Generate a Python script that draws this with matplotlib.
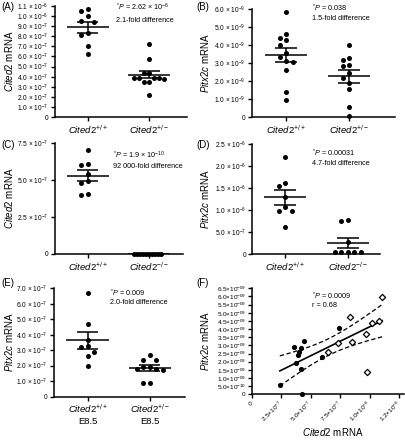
import matplotlib
matplotlib.use('Agg')
import matplotlib.pyplot as plt
import numpy as np

plt.rcParams['font.family'] = ['Liberation Sans', 'DejaVu Sans']
plt.rcParams['mathtext.fontset'] = 'custom'
plt.rcParams['mathtext.rm'] = 'Liberation Sans'
plt.rcParams['mathtext.it'] = 'Liberation Sans:italic'
plt.rcParams['mathtext.default'] = 'regular'

# ---- datos ----
a_wt = np.array([1.075, 1.05, 1.0, 0.95, 0.945, 0.83, 0.81, 0.7, 0.625]) * 1e-6
a_het = np.array([7.2, 5.75, 4.4, 4.35, 3.9, 3.85, 3.8, 3.9, 3.85, 3.45, 3.5, 2.2]) * 1e-7

b_wt = np.array([5.85, 4.3, 4.4, 4.65, 4.0, 3.55, 3.35, 3.1, 3.05, 2.6, 1.4, 0.95]) * 1e-9
b_het = np.array([4.0, 3.3, 3.18, 2.87, 2.82, 2.45, 2.2, 1.9, 1.55, 0.58, 0.04]) * 1e-9

c_wt = np.array([7.03, 6.13, 6.06, 5.45, 4.95, 4.84, 4.03, 4.05]) * 1e-7
c_ko = np.array([5.8] * 10) * 1e-12

d_wt = np.array([2.2, 1.61, 1.55, 1.31, 0.99, 0.99, 1.07, 0.61]) * 1e-6
d_ko = np.array([0.755, 0.78, 0.29, 0.055, 0.05, 0.06, 0.055, 0.05]) * 1e-6

e_wt = np.array([6.7, 4.7, 3.65, 3.25, 3.2, 2.9, 2.6, 2.0]) * 1e-7
e_het = np.array([2.7, 2.35, 2.38, 1.9, 1.9, 1.75, 1.7, 1.75, 0.9, 0.88]) * 1e-7

# panel F: Cited2 vs Pitx2c
f_filled_x = np.array([2.36, 4.25, 3.55, 4.45, 4.2, 4.0, 3.89, 3.77, 4.14, 5.94, 7.35]) * 1e-7
f_filled_y = np.array([0.57, 0.0, 2.92, 3.27, 2.82, 2.61, 2.41, 1.9, 1.55, 2.27, 4.09]) * 1e-9
f_open_x = np.array([11.04, 8.28, 10.19, 10.81, 9.69, 8.5, 7.29, 6.48, 9.77]) * 1e-7
f_open_y = np.array([5.99, 4.76, 4.39, 4.5, 3.68, 3.19, 3.13, 2.61, 1.39]) * 1e-9

lab_het = [r'$\mathit{Cited2}^{+/+}$', r'$\mathit{Cited2}^{+/-}$']
lab_ko = [r'$\mathit{Cited2}^{+/+}$', r'$\mathit{Cited2}^{-/-}$']
lab_e = [r'$\mathit{Cited2}^{+/+}$' + '\nE8.5', r'$\mathit{Cited2}^{+/-}$' + '\nE8.5']

notas = {
    'A': (r'$^{*}\mathit{P}$ = 2.62 × 10$^{-6}$', '2.1-fold difference'),
    'B': (r'$^{*}\mathit{P}$ = 0.038', '1.5-fold difference'),
    'C': (r'$^{*}\mathit{P}$ = 1.9 × 10$^{-10}$', '92 000-fold difference'),
    'D': (r'$^{*}\mathit{P}$ = 0.00031', '4.7-fold difference'),
    'E': (r'$^{*}\mathit{P}$ = 0.009', '2.0-fold difference'),
    'F': (r'$^{*}\mathit{P}$ = 0.0009', 'r = 0.68'),
}

W, H = 405, 440
fig = plt.figure(figsize=(W / 100, H / 100), dpi=100)


def rect(x0, x1, ytop, ybot):
    return [x0 / W, 1 - ybot / H, (x1 - x0) / W, (ybot - ytop) / H]


def fmt_sci(v, dos_digitos=False, sep=' × '):
    if v == 0:
        return '0'
    e = int(np.floor(np.log10(abs(v)) + 1e-9))
    m = v / 10 ** e
    m = np.floor(m * 10 + 1e-6) / 10
    es = f'-{abs(e):02d}' if dos_digitos else f'{e}'
    return f'{m:.1f}{sep}10$^{{{es}}}$'


def estilo_ejes(ax):
    for s in ['top', 'right']:
        ax.spines[s].set_visible(False)
    for s in ['left', 'bottom']:
        ax.spines[s].set_linewidth(1.1)
    ax.tick_params(axis='both', length=3, width=1.0, pad=1.5)


def swarm_x(ax, centro, vals, paso=6.5, max_px=15):
    # reparto horizontal tipo enjambre, en pixeles de pantalla
    py = ax.transData.transform(np.column_stack([np.full(len(vals), centro), vals]))[:, 1]
    orden = np.argsort(-vals, kind='stable')
    offs = np.zeros(len(vals))
    colocados = []
    for i in orden:
        for k in [0, -1, 1, -2, 2, -3, 3, -4, 4, -5, 5, -6, 6]:
            cand = k * paso
            if all(np.hypot(cand - ox, py[i] - oy) >= paso * 0.95 for ox, oy in colocados):
                break
        offs[i] = cand
        colocados.append((cand, py[i]))
    if np.abs(offs).max() > max_px:
        offs = offs * max_px / np.abs(offs).max()
    x0 = ax.transData.transform((centro, 0))[0]
    x1 = ax.transData.transform((centro + 1, 0))[0]
    return centro + offs / (x1 - x0)


def dotplot(ax, g1, g2, yticks, labels, xlim):
    ax.set_xlim(*xlim)
    ax.set_ylim(0, yticks[-1])
    for i, g in enumerate([g1, g2]):
        xs = swarm_x(ax, i, g)
        ax.scatter(xs, g, s=13, color='black', linewidth=0, zorder=2, clip_on=False)
        m = g.mean()
        sem = g.std(ddof=1) / np.sqrt(len(g))
        ax.hlines(m, i - 0.34, i + 0.34, color='black', lw=1.1, zorder=3)
        ax.hlines([m - sem, m + sem], i - 0.175, i + 0.175, color='black', lw=1.1, zorder=3)
        ax.vlines(i, m - sem, m + sem, color='black', lw=1.1, zorder=3)
    ax.set_yticks(yticks)
    ax.set_yticklabels([fmt_sci(v) for v in yticks], fontsize=4.8)
    ax.set_xticks([0, 1])
    ax.set_xticklabels(labels, fontsize=6.8)
    estilo_ejes(ax)


ax_a = fig.add_axes(rect(55, 187, 6, 117))
dotplot(ax_a, a_wt, a_het, np.arange(0, 12) * 1e-7, lab_het, (-0.53, 1.61))

ax_b = fig.add_axes(rect(252, 395, 9.3, 117))
dotplot(ax_b, b_wt, b_het, np.arange(0, 7) * 1e-9, lab_het, (-0.54, 1.73))

ax_c = fig.add_axes(rect(55, 183, 143.3, 254))
dotplot(ax_c, c_wt, c_ko, np.array([0, 2.5, 5.0, 7.5]) * 1e-7, lab_ko, (-0.53, 1.55))

ax_d = fig.add_axes(rect(252.3, 380, 144, 254.3))
dotplot(ax_d, d_wt, d_ko, np.array([0, 5.0, 10, 15, 20, 25]) * 1e-7, lab_ko, (-0.52, 1.51))

ax_e = fig.add_axes(rect(54, 185, 288.3, 396.5))
dotplot(ax_e, e_wt, e_het, np.arange(0, 8) * 1e-7, lab_e, (-0.54, 1.57))
for t in ax_e.get_xticklabels():
    t.set_linespacing(1.3)

# panel F: correlacion
ax_f = fig.add_axes(rect(252, 404, 288.3, 394.3))
x_all = np.concatenate([f_filled_x, f_open_x])
y_all = np.concatenate([f_filled_y, f_open_y])
pend, inter = np.polyfit(x_all, y_all, 1)
n = len(x_all)
resid = y_all - (pend * x_all + inter)
s = np.sqrt(np.sum(resid ** 2) / (n - 2))
sxx = np.sum((x_all - x_all.mean()) ** 2)
t_crit = 2.101
xs = np.linspace(x_all.min(), x_all.max(), 100)
ys = pend * xs + inter
banda = t_crit * s * np.sqrt(1 / n + (xs - x_all.mean()) ** 2 / sxx)
ax_f.plot(xs, ys, color='black', lw=1.2)
ax_f.plot(xs, ys + banda, color='black', lw=0.9, ls=(0, (3.5, 2)))
ax_f.plot(xs, ys - banda, color='black', lw=0.9, ls=(0, (3.5, 2)))
ax_f.scatter(f_filled_x, f_filled_y, s=14, color='black', linewidth=0, zorder=3, clip_on=False)
ax_f.scatter(f_open_x, f_open_y, s=10, marker='D', facecolor='white', edgecolor='black',
             linewidth=0.9, zorder=3, clip_on=False)
fy = np.arange(0, 14) * 0.5e-9
fx = np.array([0, 2.5, 5.0, 7.5, 10, 12.5]) * 1e-7
ax_f.set_xlim(0, 1.29e-6)
ax_f.set_ylim(0, fy[-1])
ax_f.set_yticks(fy)
ax_f.set_yticklabels([fmt_sci(v, True, '×') for v in fy], fontsize=4.6)
ax_f.set_xticks(fx)
ax_f.set_xticklabels([fmt_sci(v, False, '×') for v in fx], fontsize=4.6, rotation=45,
                     ha='right', va='center', rotation_mode='anchor')
estilo_ejes(ax_f)
ax_f.tick_params(axis='x', pad=2.5)
fig.text(333 / W, 1 - 432 / H, r'$\mathit{Cited2}$ mRNA', ha='center', va='center', fontsize=7)

# etiquetas de eje y
for x, ytop, ybot, txt in [(9, 6, 117, 'Cited2'), (205, 9, 117, 'Pitx2c'),
                           (9, 143, 254, 'Cited2'), (205, 144, 254, 'Pitx2c'),
                           (9, 288, 396, 'Pitx2c'), (205, 288, 394, 'Pitx2c')]:
    fig.text(x / W, 1 - (ytop + ybot) / 2 / H, r'$\mathit{' + txt + '}$ mRNA',
             rotation=90, ha='center', va='center', fontsize=7)

# letras de panel
for x, y, letra in [(1, 7, 'A'), (196, 7, 'B'), (1, 145, 'C'), (196, 145, 'D'),
                    (1, 283, 'E'), (196, 283, 'F')]:
    fig.text(x / W, 1 - y / H, f'({letra})', ha='left', va='center', fontsize=7)

# textos de estadistica
for letra, (x, y1, y2) in {'A': (116, 7, 21), 'B': (312, 8, 18), 'C': (113, 155, 166),
                           'D': (312, 153, 163), 'E': (110, 293, 303),
                           'F': (312, 296, 305)}.items():
    l1, l2 = notas[letra]
    fig.text(x / W, 1 - y1 / H, l1, ha='left', va='center', fontsize=5.2)
    fig.text(x / W, 1 - y2 / H, l2, ha='left', va='center', fontsize=5.2)

fig.savefig('out.png', dpi=100)
